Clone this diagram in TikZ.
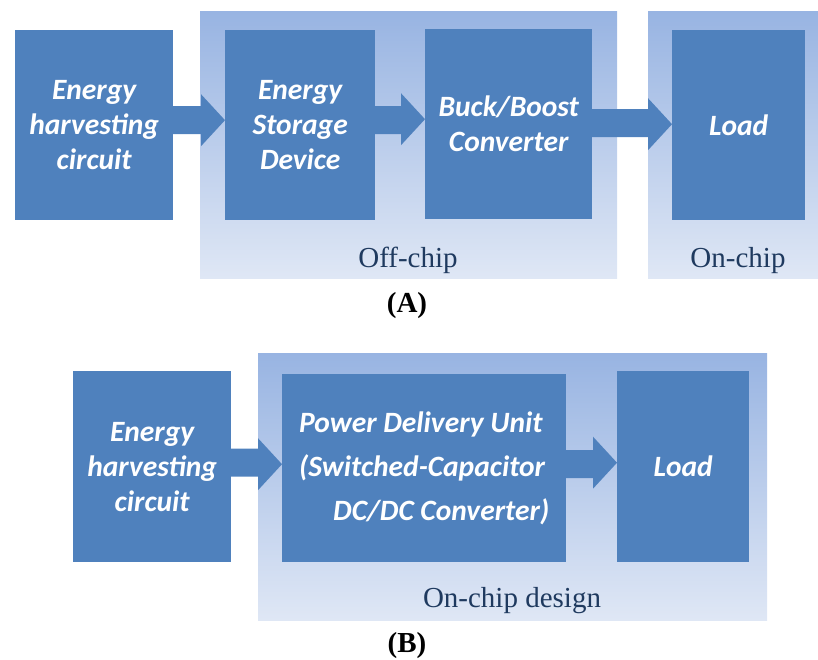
\documentclass[tikz,border=0pt]{standalone}
\usepackage{fontspec}
\setmainfont{Liberation Serif}
\newfontfamily\boxfont{Carlito}
\usetikzlibrary{calc}
\definecolor{blockblue}{HTML}{4F81BD}
\definecolor{paneltop}{HTML}{98B4E2}
\definecolor{panelbottom}{HTML}{DFE7F5}
\definecolor{captionink}{HTML}{1F3A5F}
\tikzset{
  blockbox/.style={fill=blockblue, draw=none, anchor=north west, inner sep=0pt,
    text=white, align=center, font=\boxfont\bfseries\itshape\fontsize{29.5}{35}\selectfont},
  panel/.style={top color=paneltop, bottom color=panelbottom, draw=none},
  panellabel/.style={anchor=base, text=captionink, font=\fontsize{29}{34}\selectfont},
  figlabel/.style={anchor=base, font=\bfseries\fontsize{29}{34}\selectfont},
  arrowfill/.style={fill=blockblue}
}
% Block arrow from the east side of #1 to the west side of #2, raised by #3 (pt)
\newcommand\blockarrow[3]{%
  \path ([yshift=#3]#1.east) coordinate (#1-src)
        ([yshift=#3]#2.west) coordinate (#1-tip);
  \fill[arrowfill] let \p1=(#1-src), \p2=(#1-tip) in
    (\x1-1pt,\y1+14pt) -- (\x2-24pt,\y1+14pt) -- (\x2-24pt,\y2+26pt)
    -- (\x2,\y2) -- (\x2-24pt,\y2-26pt) -- (\x2-24pt,\y1-14pt)
    -- (\x1-1pt,\y1-14pt) -- cycle;
}
\begin{document}
\begin{tikzpicture}[x=1pt,y=-1pt]
\useasboundingbox (0,0) rectangle (818,660);

% ---- (A) ----
\fill[panel] (200,12) rectangle (617,278);
\fill[panel] (648,12) rectangle (818,278);

\node[blockbox, minimum width=158pt, minimum height=190pt] (eh1) at (15,30)
  {Energy\\harvesting\\circuit};
\node[blockbox, minimum width=150pt, minimum height=190pt] (esd) at (225,30)
  {Energy\\Storage\\Device};
\node[blockbox, minimum width=167pt, minimum height=190pt] (bbc) at (425,29)
  {Buck/Boost\\Converter};
\node[blockbox, minimum width=133pt, minimum height=190pt] (ld1) at (672,30)
  {Load};

\blockarrow{eh1}{esd}{5pt}
\blockarrow{esd}{bbc}{5pt}
\blockarrow{bbc}{ld1}{1pt}

\node[panellabel] (offlbl) at (408,267) {Off-chip};
\node[panellabel] (onlbl) at (738,267) {On-chip};
\node[figlabel] (capA) at (407,312) {(A)};

% ---- (B) ----
\fill[panel] (258,353) rectangle (767,620);

\node[blockbox, minimum width=158pt, minimum height=191pt] (eh2) at (73,371)
  {Energy\\harvesting\\circuit};
\node[blockbox, minimum width=284pt, minimum height=188pt, align=left,
  font=\boxfont\bfseries\itshape\fontsize{29.5}{44}\selectfont] (pdu) at (282,374)
  {Power Delivery Unit\\(Switched-Capacitor\\\hspace*{34pt}DC/DC Converter)};
\node[blockbox, minimum width=132pt, minimum height=191pt] (ld2) at (617,371)
  {Load};

\blockarrow{eh2}{pdu}{4pt}
\blockarrow{pdu}{ld2}{4pt}

\node[panellabel] (onchipdesign) at (512,607) {On-chip design};
\node[figlabel] (capB) at (407,652) {(B)};
\end{tikzpicture}
\end{document}
